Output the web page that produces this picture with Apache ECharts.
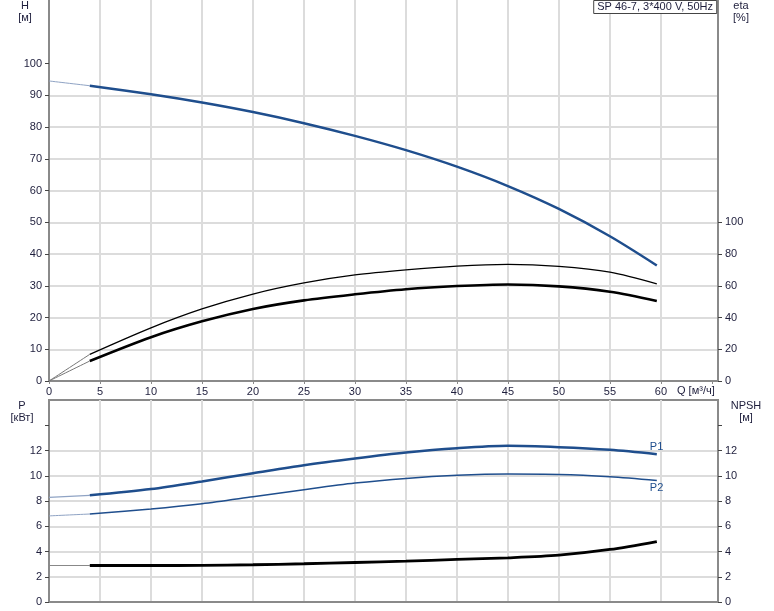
<!DOCTYPE html>
<html><head><meta charset="utf-8">
<script src="https://cdn.jsdelivr.net/npm/echarts@6/dist/echarts.min.js"></script>
<style>html,body{margin:0;padding:0;background:#fff}#c{width:774px;height:611px}</style>
</head><body><div id="c"></div>
<script>
// ---- data ----
const qExt = [0, 4];
const qMain = [4, 10, 15, 20, 25, 30, 35, 40, 45, 50, 55, 59.6];

const hExt = [94.5, 93.0];
const hMain = [93.0, 90.3, 87.7, 84.7, 81.2, 77.2, 72.7, 67.5, 61.4, 54.2, 45.6, 36.4];

const eta1Ext = [0, 16.8];
const eta1Main = [16.8, 33.5, 45.4, 54.8, 61.8, 66.8, 70.0, 72.4, 73.5, 72.2, 68.6, 61.2];
const eta2Ext = [0, 12.6];
const eta2Main = [12.6, 27.6, 37.6, 45.4, 50.8, 54.6, 57.8, 59.8, 60.8, 59.6, 56.2, 50.4];

const p1Ext = [8.29, 8.45];
const p1Main = [8.45, 8.95, 9.55, 10.2, 10.84, 11.37, 11.84, 12.18, 12.37, 12.26, 12.05, 11.71];
const p2Ext = [6.82, 6.97];
const p2Main = [6.97, 7.37, 7.79, 8.34, 8.9, 9.42, 9.79, 10.03, 10.13, 10.1, 9.92, 9.63];
const npshExt = [2.89, 2.89];
const npshMain = [2.89, 2.89, 2.9, 2.95, 3.03, 3.13, 3.24, 3.37, 3.5, 3.71, 4.16, 4.79];

const xTickLabels = [0, 5, 10, 15, 20, 25, 30, 35, 40, 45, 50, 55, 60];
const hTickLabels = [0, 10, 20, 30, 40, 50, 60, 70, 80, 90, 100];
const etaTickLabels = [0, 20, 40, 60, 80, 100];
const pTickLabels = [0, 2, 4, 6, 8, 10, 12];
const npshTickLabels = [0, 2, 4, 6, 8, 10, 12];

const titleText = 'SP 46-7, 3*400 V, 50Hz';

// ---- helpers ----
const pairs = (xs, ys) => xs.map((x, i) => [x, ys[i]]);
const FONT = "'Liberation Sans', Arial, sans-serif";
const TXT = '#1e1e3c';
const AXC = '#8a8a8a';
const GRC = '#dcdcdc';
const BLUE = '#1f4e8d';

const chart = echarts.init(document.getElementById('c'), null, {renderer: 'canvas'});

const xAxisBase = (gi, showLabels) => ({
  type: 'value', gridIndex: gi, min: 0, max: 65.6, interval: 5,
  axisLine: {show: true, onZero: false, lineStyle: {color: AXC, width: 2}},
  axisTick: {show: showLabels, length: 3, lineStyle: {color: AXC}, customValues: xTickLabels.concat([65])},
  axisLabel: {show: showLabels, customValues: xTickLabels, color: TXT, fontFamily: FONT, fontSize: 11, margin: 5},
  splitLine: {show: true, showMinLine: false, showMaxLine: false, lineStyle: {color: GRC, width: 2}}
});

const yAxisBase = (gi, pos, max, interval, labels, ticks, split) => ({
  type: 'value', gridIndex: gi, position: pos, min: 0, max: max, interval: interval,
  axisLine: {show: true, lineStyle: {color: AXC, width: 2}},
  axisTick: {show: true, length: 4, lineStyle: {color: '#444'}, customValues: ticks},
  axisLabel: {customValues: labels, color: TXT, fontFamily: FONT, fontSize: 11, margin: 7},
  splitLine: split ? {show: true, showMinLine: false, showMaxLine: false, lineStyle: {color: GRC, width: 2}} : {show: false}
});

const line = (name, xi, yi, data, color, width, extra) => Object.assign({
  name, type: 'line', xAxisIndex: xi, yAxisIndex: yi, data, symbol: 'none',
  smooth: 0.3, lineStyle: {color, width}, itemStyle: {color}, z: 3, silent: true
}, extra || {});

const txt = (x, y, s, align) => ({
  type: 'text', x, y, style: {text: s, font: '11px ' + FONT, fill: TXT, textAlign: align || 'center', textVerticalAlign: 'middle'}
});

chart.setOption({
  animation: false,
  backgroundColor: '#fff',
  title: {
    text: titleText, right: 57, top: 0, padding: [1, 4, 2, 4],
    borderColor: '#444', borderWidth: 1, backgroundColor: '#fff',
    textStyle: {fontSize: 11, fontWeight: 'normal', color: TXT, fontFamily: FONT}
  },
  grid: [
    {left: 49, right: 56, top: 0, height: 381},
    {left: 49, right: 56, top: 400, height: 202, show: true, borderColor: AXC, borderWidth: 2, backgroundColor: 'transparent'}
  ],
  xAxis: [xAxisBase(0, true), xAxisBase(1, false)],
  yAxis: [
    yAxisBase(0, 'left', 120, 10, hTickLabels, hTickLabels, true),
    yAxisBase(0, 'right', 240, 20, etaTickLabels, etaTickLabels, false),
    yAxisBase(1, 'left', 16, 2, pTickLabels, pTickLabels.concat([14]), true),
    yAxisBase(1, 'right', 16, 2, npshTickLabels, npshTickLabels.concat([14]), false)
  ],
  graphic: [
    txt(25, 6, 'H'), txt(25, 18, '[м]'),
    txt(741, 6, 'eta'), txt(741, 18, '[%]'),
    txt(22, 406, 'P'), txt(22, 418, '[кВт]'),
    txt(746, 406, 'NPSH'), txt(746, 418, '[м]'),
    txt(677, 391, 'Q [м³/ч]', 'left')
  ],
  series: [
    line('H ext', 0, 0, pairs(qExt, hExt), '#8fa3c4', 1),
    line('H', 0, 0, pairs(qMain, hMain), BLUE, 2.5),
    line('eta1 ext', 0, 1, pairs(qExt, eta1Ext), '#777', 1),
    line('eta1', 0, 1, pairs(qMain, eta1Main), '#000', 1.3),
    line('eta2 ext', 0, 1, pairs(qExt, eta2Ext), '#777', 1),
    line('eta2', 0, 1, pairs(qMain, eta2Main), '#000', 2.6),
    line('P1 ext', 1, 2, pairs(qExt, p1Ext), '#8fa3c4', 1.2),
    line('P1', 1, 2, pairs(qMain, p1Main), BLUE, 2.5, {
      endLabel: {show: true, formatter: 'P1', distance: 0, offset: [-7, -7], color: BLUE, fontFamily: FONT, fontSize: 11}
    }),
    line('P2 ext', 1, 2, pairs(qExt, p2Ext), '#8fa3c4', 1),
    line('P2', 1, 2, pairs(qMain, p2Main), BLUE, 1.5, {
      endLabel: {show: true, formatter: 'P2', distance: 0, offset: [-7, 8], color: BLUE, fontFamily: FONT, fontSize: 11}
    }),
    line('NPSH ext', 1, 3, pairs(qExt, npshExt), '#888', 1.2),
    line('NPSH', 1, 3, pairs(qMain, npshMain), '#000', 2.8)
  ]
});
</script></body></html>
